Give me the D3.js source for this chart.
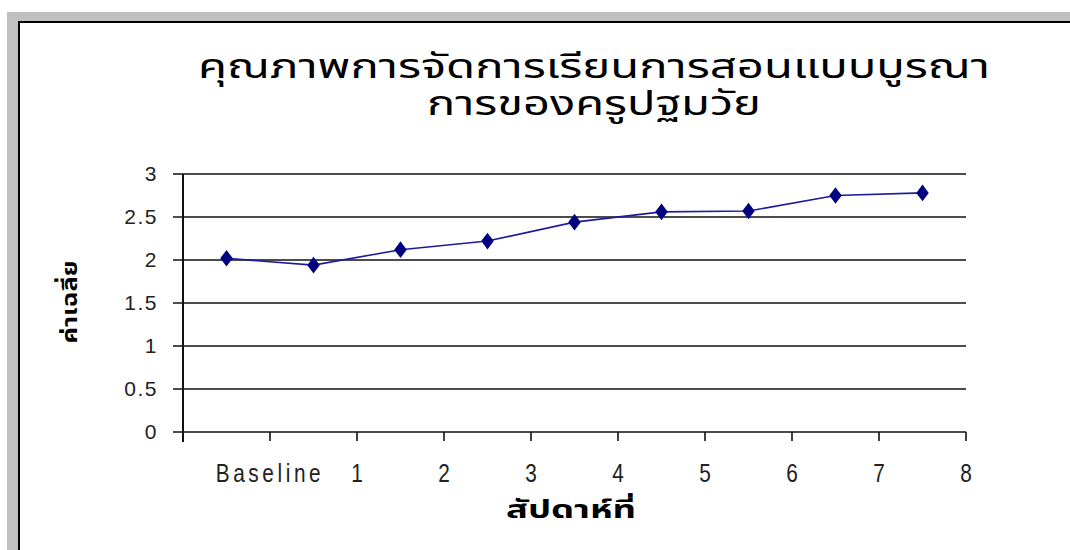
<!DOCTYPE html>
<html><head><meta charset="utf-8">
<script src="https://cdn.jsdelivr.net/npm/d3@7"></script>
<style>
html,body{margin:0;padding:0;background:#fff;}
svg{display:block;}
</style></head>
<body>
<svg id="chart" width="1070" height="550"></svg>
<script>
const categories = ["Baseline","1","2","3","4","5","6","7","8"];
const values = [2.02, 1.94, 2.12, 2.22, 2.44, 2.56, 2.57, 2.75, 2.78];
const yTicks = [0, 0.5, 1, 1.5, 2, 2.5, 3];
const titleLines = ["คุณภาพการจัดการเรียนการสอนแบบบูรณา", "การของครูปฐมวัย"];
const yTitle = "ค่าเฉลี่ย";
const xTitle = "สัปดาห์ที่";

(function(){
const svg = d3.select("#chart");
const W = 1070, H = 550;
const thaiFont = "'Noto Sans Thai','Noto Sans Thai Looped','Garuda','Loma','Norasi','Noto Sans',sans-serif";

// frame
svg.append("rect").attr("x",0).attr("y",0).attr("width",W).attr("height",H).attr("fill","#fff");
svg.append("rect").attr("x",7).attr("y",12).attr("width",W-7).attr("height",H-12).attr("fill","#c0c0c0");
svg.append("rect").attr("x",18).attr("y",21).attr("width",W-18).attr("height",H-21).attr("fill","#fff");
svg.append("line").attr("x1",19).attr("x2",W).attr("y1",22).attr("y2",22).attr("stroke","#000").attr("stroke-width",2);
svg.append("line").attr("x1",19).attr("x2",19).attr("y1",21).attr("y2",H).attr("stroke","#000").attr("stroke-width",2);

const pLeft = 183, pRight = 966, pTop = 174, pBottom = 432;
const x = d3.scaleBand().domain(categories).range([pLeft, pRight]).padding(0);
const y = d3.scaleLinear().domain([0, 3]).range([pBottom, pTop]);
const bw = x.bandwidth();

// gridlines
svg.append("g").selectAll("line").data(yTicks).join("line")
  .attr("x1", pLeft - 10).attr("x2", pRight)
  .attr("y1", d => y(d)).attr("y2", d => y(d))
  .attr("stroke", "#111").attr("stroke-width", 1.6);

// y axis
const yAxis = d3.axisLeft(y).tickValues(yTicks).tickSize(10).tickPadding(15).tickFormat(d3.format(""));
const gy = svg.append("g").attr("transform", `translate(${pLeft},0)`).call(yAxis);
gy.select(".domain").remove();
gy.selectAll(".tick line").remove();
gy.selectAll("text").attr("font-family","'Liberation Sans',Arial,sans-serif").attr("font-size",21)
  .attr("fill","#222").attr("letter-spacing", 1.5);
svg.append("line").attr("x1",pLeft).attr("x2",pLeft).attr("y1",pTop).attr("y2",pBottom+10)
  .attr("stroke","#111").attr("stroke-width",2);

// x axis ticks at band edges
const edges = [pLeft].concat(categories.map(c => x(c) + bw));
svg.append("g").selectAll("line").data(edges).join("line")
  .attr("x1", d => d).attr("x2", d => d).attr("y1", pBottom).attr("y2", pBottom + 9)
  .attr("stroke","#111").attr("stroke-width",1.6);
svg.append("g").selectAll("text").data(categories).join("text")
  .attr("transform", d => `translate(${x(d) + bw},482) scale(0.8,1)`)
  .attr("text-anchor","middle")
  .attr("font-family","'Liberation Sans',Arial,sans-serif")
  .attr("font-size",26).attr("fill","#222")
  .attr("letter-spacing", d => d.length > 1 ? 4.5 : 0)
  .text(d => d);

// line + markers
const line = d3.line().x((d,i) => x(categories[i]) + bw/2).y(d => y(d));
svg.append("path").datum(values).attr("d", line).attr("fill","none")
  .attr("stroke","#1c1ca0").attr("stroke-width",1.6);
const diamond = d3.symbol().type(d3.symbolDiamond).size(80);
svg.append("g").selectAll("path").data(values).join("path")
  .attr("transform",(d,i) => `translate(${x(categories[i]) + bw/2},${y(d)}) scale(1.3,1)`)
  .attr("d", diamond).attr("fill","#000080");

// title
const titleLens = [792, 334];
svg.append("g").selectAll("text").data(titleLines).join("text")
  .attr("x", 594).attr("y", (d,i) => 78 + i*37)
  .attr("text-anchor","middle").attr("font-family", thaiFont).attr("font-size",34).attr("fill","#000")
  .attr("textLength", (d,i) => titleLens[i]).attr("lengthAdjust","spacingAndGlyphs")
  .text(d => d);

// axis titles
svg.append("text").attr("transform","translate(77,302) rotate(-90)")
  .attr("text-anchor","middle").attr("font-family", thaiFont).attr("font-weight","bold").attr("font-size",22)
  .attr("textLength", 83).attr("lengthAdjust","spacingAndGlyphs")
  .text(yTitle);
svg.append("text").attr("x",571).attr("y",518)
  .attr("text-anchor","middle").attr("font-family", thaiFont).attr("font-weight","bold").attr("font-size",24)
  .attr("textLength", 130).attr("lengthAdjust","spacingAndGlyphs")
  .text(xTitle);
})();
</script>
</body></html>
